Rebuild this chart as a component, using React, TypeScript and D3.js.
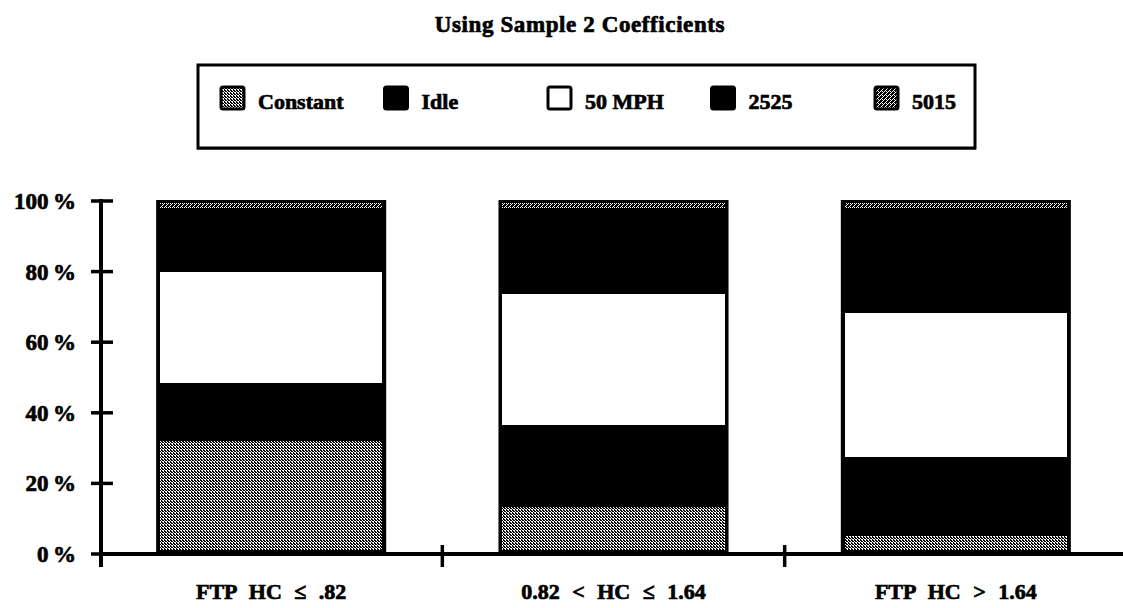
import React from "react";
import * as d3 from "d3";

// Share of emissions by test component for each FTP HC group (percent of total)
const categories = ["FTP HC \u2264 .82", "0.82 < HC \u2264 1.64", "FTP HC > 1.64"];
const seriesNames = ["Constant", "Idle", "50 MPH", "2525", "5015"];
const constantShare = [32, 13.3, 5.1];
const idleShare = [16.4, 23.2, 22.4];
const mph50Share = [31.6, 37.2, 40.7];
const share2525 = [18, 24.3, 29.8];
const share5015 = [2, 2, 2];
const yTicks = [0, 20, 40, 60, 80, 100];
const titleText = "Using Sample 2 Coefficients";

const W = 1123;
const H = 608;
const FONT = "'Liberation Serif', 'DejaVu Serif', serif";

const fills: Record<string, string> = {
  Constant: "url(#patConstant)",
  Idle: "#000",
  "50 MPH": "#fff",
  "2525": "#000",
  "5015": "url(#pat5015)",
};

export default function App() {
  const rows = categories.map((c, i) => ({
    category: c,
    Constant: constantShare[i],
    Idle: idleShare[i],
    "50 MPH": mph50Share[i],
    "2525": share2525[i],
    "5015": share5015[i],
  }));
  const stacked = d3.stack<any>().keys(seriesNames)(rows);

  const y = d3.scaleLinear().domain([0, 100]).range([554, 201]);
  const x = d3
    .scaleBand<string>()
    .domain(categories)
    .range([100, 1127])
    .paddingInner(0.328)
    .paddingOuter(0.164);
  const step = x.step();
  const bw = x.bandwidth();
  const border = 4;

  const textStyle = {
    fontFamily: FONT,
    fontWeight: 700 as const,
    fill: "#000",
    stroke: "#000",
    strokeWidth: 0.7,
  };

  const legendX0 = 221;
  const legendStep = 163.5;

  return (
    <svg
      width={W}
      height={H}
      viewBox={`0 0 ${W} ${H}`}
      style={{ position: "absolute", left: 0, top: 0, background: "#fff" }}
    >
      <defs>
        <pattern id="patConstant" width={3} height={3} patternUnits="userSpaceOnUse">
          <rect width={3} height={3} fill="#fff" />
          <rect x={0} y={0} width={1} height={1} fill="#000" />
          <rect x={1} y={1} width={1} height={1} fill="#000" />
          <rect x={2} y={2} width={1} height={1} fill="#000" />
          <rect x={2} y={0} width={1} height={1} fill="#000" />
          <rect x={0} y={1} width={1} height={1} fill="#000" />
        </pattern>
        <pattern id="pat5015" width={4} height={4} patternUnits="userSpaceOnUse">
          <rect width={4} height={4} fill="#000" />
          <rect x={3} y={0} width={1} height={1} fill="#fff" />
          <rect x={2} y={1} width={1} height={1} fill="#fff" />
          <rect x={1} y={2} width={1} height={1} fill="#fff" />
          <rect x={0} y={3} width={1} height={1} fill="#fff" />
          <rect x={2} y={3} width={1} height={1} fill="#fff" />
        </pattern>
      </defs>

      {/* Title */}
      <text
        x={580}
        y={32}
        textAnchor="middle"
        fontSize={23}
        style={{ ...textStyle, letterSpacing: "0.6px" }}
      >
        {titleText}
      </text>

      {/* Legend */}
      <rect x={198} y={65} width={777} height={83} fill="#fff" stroke="#000" strokeWidth={3} />
      <line x1={197} x2={976} y1={148.5} y2={148.5} stroke="#000" strokeWidth={2} />
      {seriesNames.map((name, i) => {
        const sx = legendX0 + i * legendStep;
        return (
          <g key={name}>
            <rect
              x={sx}
              y={87}
              width={23}
              height={22}
              rx={2}
              fill={fills[name]}
              stroke="#000"
              strokeWidth={3}
            />
            <text x={sx + 37} y={109} fontSize={22} style={textStyle}>
              {name}
            </text>
          </g>
        );
      })}

      {/* Bars */}
      {categories.map((c) => {
        const bx = x(c)!;
        return (
          <rect key={`bg-${c}`} x={bx} y={y(100) - 1} width={bw} height={y(0) - y(100) + 1} fill="#000" />
        );
      })}
      {stacked.map((layer) =>
        layer.map((d, i) => {
          const c = categories[i];
          const bx = x(c)!;
          const top = y(d[1]) + (d[1] >= 100 ? 2 : 0);
          const bottom = y(d[0]) - (d[0] <= 0 ? border : 0);
          return (
            <rect
              key={`${layer.key}-${c}`}
              x={bx + border}
              y={top}
              width={bw - 2 * border}
              height={Math.max(0, bottom - top)}
              fill={fills[layer.key as string]}
              shapeRendering="crispEdges"
            />
          );
        })
      )}

      {/* Y axis */}
      <line x1={101} x2={101} y1={199} y2={567} stroke="#000" strokeWidth={4} />
      {yTicks.map((t) => (
        <g key={t}>
          <line x1={91} x2={113} y1={y(t)} y2={y(t)} stroke="#000" strokeWidth={3.5} />
          <text x={76} y={y(t) + 8} textAnchor="end" fontSize={23} style={textStyle}>
            {`${t}\u2009%`}
          </text>
        </g>
      ))}

      {/* X axis */}
      <line x1={99} x2={W} y1={y(0)} y2={y(0)} stroke="#000" strokeWidth={4} />
      {[1, 2].map((k) => (
        <line
          key={k}
          x1={100 + k * step}
          x2={100 + k * step}
          y1={y(0) - 9}
          y2={y(0) + 13}
          stroke="#000"
          strokeWidth={3.5}
        />
      ))}
      {categories.map((c) => (
        <text
          key={c}
          x={x(c)! + bw / 2}
          y={599}
          textAnchor="middle"
          fontSize={22}
          style={{ ...textStyle, wordSpacing: "7px" }}
        >
          {c}
        </text>
      ))}
    </svg>
  );
}
